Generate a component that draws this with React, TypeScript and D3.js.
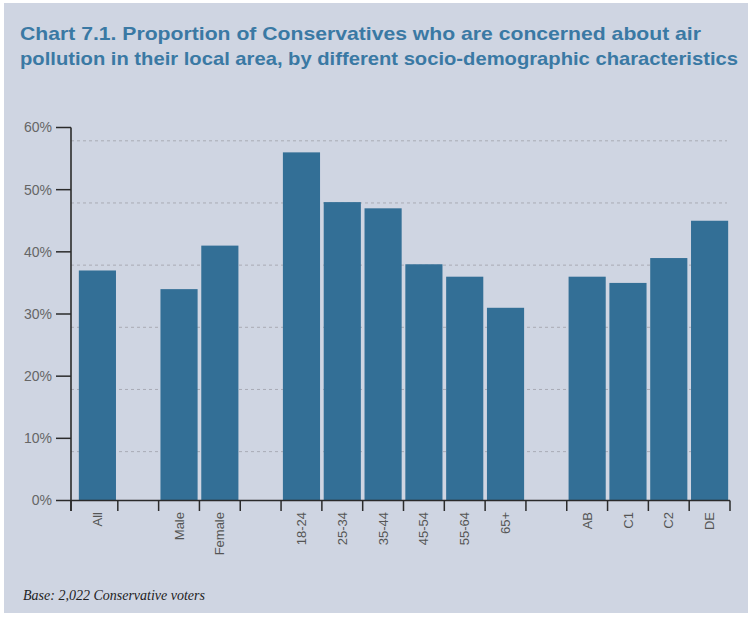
import React from "react";
import * as d3 from "d3";

const categories = ["All", "", "Male", "Female", " ", "18-24", "25-34", "35-44", "45-54", "55-64", "65+", "  ", "AB", "C1", "C2", "DE"];
const values: (number | null)[] = [37, null, 34, 41, null, 56, 48, 47, 38, 36, 31, null, 36, 35, 39, 45];
const yTicks = [0, 10, 20, 30, 40, 50, 60];
const titleLines = [
  "Chart 7.1. Proportion of Conservatives who are concerned about air",
  "pollution in their local area, by different socio-demographic characteristics",
];
const footnote = "Base: 2,022 Conservative voters";

const W = 752;
const H = 617;
const BG = "#cfd5e2";
const BAR = "#336f96";
const TITLE = "#3a79a4";

export default function App() {
  const axisX = 71;
  const x = d3
    .scaleBand<string>()
    .domain(categories)
    .range([77, 730])
    .paddingInner(0.09)
    .paddingOuter(0.045);
  const y = d3.scaleLinear().domain([0, 60]).range([500.5, 127.5]);
  const gridOffset = 13.3;
  const step = x.step();
  const r0 = 77;
  const boundaries = d3.range(categories.length + 1).map((i) => (i === 0 ? axisX : r0 + i * step));

  return (
    <div style={{ position: "absolute", left: 0, top: 0 }}>
      <svg width={W} height={H} style={{ display: "block", background: "#ffffff" }}>
        <rect x={4} y={3} width={744} height={610} fill={BG} />
        {titleLines.map((t, i) => (
          <text
            key={i}
            x={20}
            y={40 + i * 24.5}
            fill={TITLE}
            fontFamily="'Liberation Sans', Arial, sans-serif"
            fontWeight="bold"
            fontSize={19}
            textLength={i === 0 ? 681 : 718}
            lengthAdjust="spacingAndGlyphs"
          >
            {t}
          </text>
        ))}
        {/* gridlines */}
        {yTicks
          .filter((t) => t > 0)
          .map((t) => (
            <line
              key={"g" + t}
              x1={axisX}
              x2={727}
              y1={y(t) + gridOffset}
              y2={y(t) + gridOffset}
              stroke="#a9abb5"
              strokeWidth={1}
              strokeDasharray="3,3"
            />
          ))}
        {/* bars */}
        {categories.map((c, i) =>
          values[i] == null ? null : (
            <rect
              key={"b" + i}
              x={x(c)!}
              y={y(values[i] as number)}
              width={x.bandwidth()}
              height={y(0) - y(values[i] as number)}
              fill={BAR}
            />
          )
        )}
        {/* y axis */}
        <line x1={axisX} x2={axisX} y1={127.5} y2={511} stroke="#2b2b2b" strokeWidth={1.6} />
        {yTicks.map((t) => (
          <g key={"y" + t}>
            <line x1={56} x2={axisX} y1={y(t)} y2={y(t)} stroke="#2b2b2b" strokeWidth={1.5} />
            <text
              x={52}
              y={y(t)}
              dy="0.35em"
              textAnchor="end"
              fill="#666666"
              fontFamily="'Liberation Sans', Arial, sans-serif"
              fontSize={14}
            >
              {t}%
            </text>
          </g>
        ))}
        {/* x axis */}
        <line x1={axisX} x2={730} y1={y(0)} y2={y(0)} stroke="#2b2b2b" strokeWidth={1.5} />
        {boundaries.map((b, i) => (
          <line key={"xt" + i} x1={b} x2={b} y1={y(0)} y2={511} stroke="#2b2b2b" strokeWidth={1.5} />
        ))}
        {categories.map((c, i) =>
          values[i] == null ? null : (
            <text
              key={"xl" + i}
              transform={`translate(${x(c)! + x.bandwidth() / 2},${512}) rotate(-90)`}
              dy="0.35em"
              textAnchor="end"
              fill="#555555"
              fontFamily="'Liberation Sans', Arial, sans-serif"
              fontSize={13}
            >
              {c}
            </text>
          )
        )}
        <text
          x={23}
          y={600}
          fill="#222222"
          fontFamily="'Liberation Serif', 'Times New Roman', serif"
          fontStyle="italic"
          fontSize={14}
        >
          {footnote}
        </text>
      </svg>
    </div>
  );
}
